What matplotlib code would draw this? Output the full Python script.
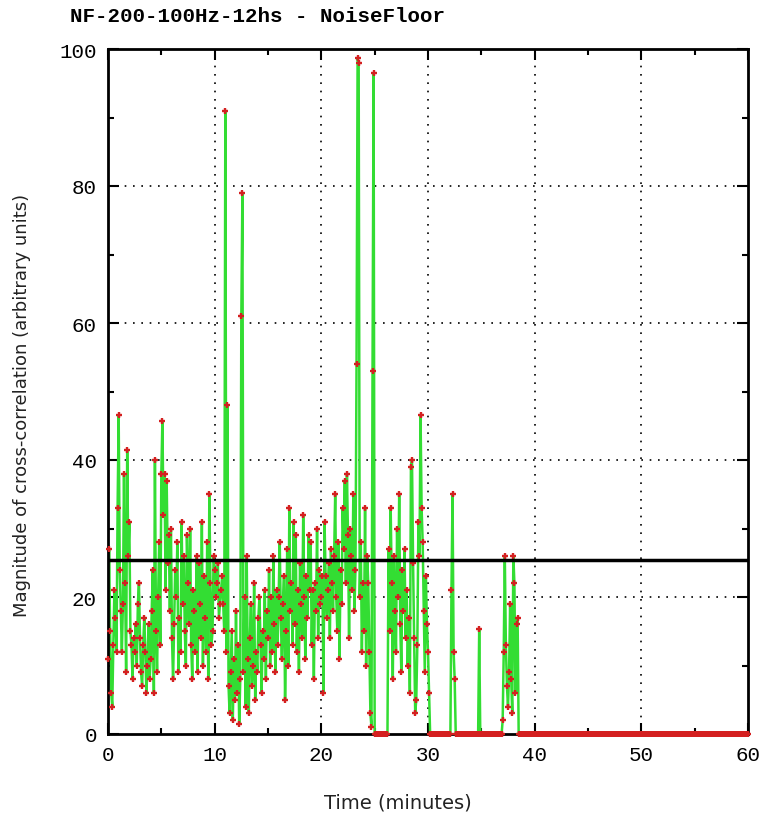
import numpy as np
import matplotlib.pyplot as plt
from matplotlib.ticker import MultipleLocator

# NoiseFloor cross-correlation, sampled every 0.1 min
t_step = 0.1
t_end = 60.0
threshold = 25.4

# values per minute, 10 samples each (0 .. 38.9 min), zero afterwards
m00_09 = [
    11, 27, 15, 6, 4, 13, 21, 17, 12, 33,
    46.5, 24, 18, 12, 19, 38, 22, 9, 41.5, 26,
    31, 15, 13, 8, 14, 12, 16, 10, 19, 22,
    14, 9, 7, 13, 17, 12, 6, 10, 16, 8,
    11, 18, 24, 6, 40, 15, 9, 20, 28, 13,
    38, 45.7, 32, 38, 21, 37, 25, 29, 18, 30,
    14, 8, 16, 24, 20, 28, 9, 17, 12, 31,
    19, 26, 15, 10, 29, 22, 16, 30, 13, 8,
    21, 18, 12, 26, 9, 25, 19, 14, 31, 10,
    23, 17, 12, 28, 8, 35, 22, 13, 15, 26,
]
m10_19 = [
    24, 20, 22, 25, 17, 19, 21, 23, 19, 15,
    91, 12, 48, 7, 3, 9, 15, 2, 11, 5,
    18, 6, 13, 1.5, 8, 61, 79, 9, 20, 4,
    26, 11, 3, 14, 19, 7, 10, 22, 5, 12,
    9, 17, 20, 13, 6, 15, 11, 21, 8, 18,
    14, 24, 10, 20, 12, 26, 16, 9, 21, 13,
    20, 28, 17, 11, 19, 23, 5, 15, 27, 10,
    33, 18, 22, 13, 31, 16, 29, 12, 21, 9,
    25, 19, 14, 32, 20, 11, 23, 17, 29, 21,
    28, 13, 21, 8, 22, 18, 30, 14, 24, 19,
]
m20_29 = [
    20, 23, 6, 31, 23, 17, 21, 25, 14, 27,
    22, 18, 26, 35, 20, 15, 28, 11, 24, 19,
    33, 27, 37, 22, 38, 29, 14, 30, 26, 21,
    35, 18, 24, 54, 98.7, 98, 20, 28, 12, 22,
    15, 33, 10, 26, 22, 12, 3, 1, 53, 96.5,
    0, 0, 0, 0, 0, 0, 0, 0, 0, 0,
    0, 0, 0, 27, 15, 33, 22, 8, 26, 18,
    12, 30, 20, 35, 16, 9, 24, 18, 27, 14,
    21, 10, 17, 6, 39, 40, 25, 14, 3, 5,
    13, 31, 26, 46.5, 33, 28, 18, 9, 23, 16,
]
m30_38 = [
    12, 6, 0, 0, 0, 0, 0, 0, 0, 0,
    0, 0, 0, 0, 0, 0, 0, 0, 0, 0,
    0, 0, 21, 35, 12, 8, 0, 0, 0, 0,
    0, 0, 0, 0, 0, 0, 0, 0, 0, 0,
    0, 0, 0, 0, 0, 0, 0, 0, 15.3, 0,
    0, 0, 0, 0, 0, 0, 0, 0, 0, 0,
    0, 0, 0, 0, 0, 0, 0, 0, 0, 0,
    2, 12, 26, 13, 7, 4, 9, 19, 8, 3,
    26, 22, 6, 16, 17, 0, 0, 0, 0, 0,
]

values = m00_09 + m10_19 + m20_29 + m30_38
n_total = int(round(t_end / t_step)) + 1
values = values + [0] * (n_total - len(values))
values = np.array(values, dtype=float)
time = np.arange(len(values)) * t_step

fig = plt.figure(figsize=(7.64, 8.20), dpi=100)
ax = fig.add_axes([108 / 764, 1 - 735 / 820, 640 / 764, 685 / 820])

ax.plot(time, values, color='#33dd33', lw=1.8, zorder=2)
ax.plot(time, values, ls='none', marker='+', ms=5, mew=1.7,
        color='#d42020', zorder=3, clip_on=False)
ax.axhline(threshold, color='black', lw=2.5, zorder=4)

ax.set_xlim(0, 60)
ax.set_ylim(0, 100)
ax.xaxis.set_major_locator(MultipleLocator(10))
ax.xaxis.set_minor_locator(MultipleLocator(5))
ax.yaxis.set_major_locator(MultipleLocator(20))
ax.yaxis.set_minor_locator(MultipleLocator(10))

ax.tick_params(which='both', direction='in', top=True, right=True,
               color='black', width=1.5)
ax.tick_params(which='major', length=8, pad=8)
ax.tick_params(which='minor', length=4)
for lab in ax.get_xticklabels() + ax.get_yticklabels():
    lab.set_family('Liberation Mono')
    lab.set_fontsize(15)

for x in range(10, 60, 10):
    ax.axvline(x, color='black', lw=1.2, ls=(0, (1, 4)), zorder=1)
for y in range(20, 100, 20):
    ax.axhline(y, color='black', lw=1.2, ls=(0, (1, 4)), zorder=1)

for sp in ax.spines.values():
    sp.set_linewidth(2)
    sp.set_color('black')
ax.spines['bottom'].set_zorder(2.5)

fig.text(70 / 764, 1 - 17 / 820, 'NF-200-100Hz-12hs - NoiseFloor',
         family='Liberation Mono', fontsize=15, weight='bold',
         ha='left', va='center')
fig.text(22 / 764, 1 - 405 / 820,
         'Magnitude of cross-correlation (arbitrary units)',
         rotation=90, fontsize=13, ha='center', va='center', color='#222222')
fig.text(398 / 764, 1 - 803 / 820, 'Time (minutes)', fontsize=14,
         ha='center', va='center', color='#222222')

fig.savefig('out.png', dpi=100)
